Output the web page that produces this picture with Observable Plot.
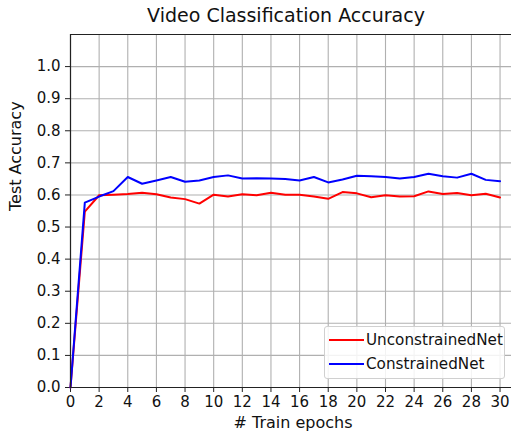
<!DOCTYPE html>
<html>
<head>
<meta charset="utf-8">
<script src="https://cdn.jsdelivr.net/npm/d3@7"></script>
<script src="https://cdn.jsdelivr.net/npm/@observablehq/plot@0.6"></script>
<style>
  html, body { margin: 0; padding: 0; background: #fff; }
  #wrap { position: relative; width: 511px; height: 436px; font-family: "DejaVu Sans", sans-serif; color: #000; }
  #title { position: absolute; left: 0; width: 572px; top: 4px; text-align: center; font-size: 19px; color: #111; }
  #legend { position: absolute; left: 324px; top: 326px; width: 179px; height: 51px; border: 1px solid #d0d0d0; border-radius: 3px; background: rgba(255,255,255,0.85); }
  .entry { position: absolute; left: 4px; height: 20px; display: flex; align-items: center; font-size: 15.2px; color: #111; }
  .swatch { width: 35px; height: 2px; margin-right: 2px; }
</style>
</head>
<body>
<div id="wrap"></div>
<script>
const title = "Video Classification Accuracy";
const xLabel = "# Train epochs";
const yLabel = "Test Accuracy";
const seriesNames = ["UnconstrainedNet", "ConstrainedNet"];
const seriesColors = ["#ff0000", "#0000ff"];
const epochs = [0,1,2,3,4,5,6,7,8,9,10,11,12,13,14,15,16,17,18,19,20,21,22,23,24,25,26,27,28,29,30];
const unconstrained = [0, 0.548, 0.599, 0.601, 0.603, 0.607, 0.602, 0.592, 0.587, 0.573, 0.601, 0.595, 0.602, 0.599, 0.607, 0.601, 0.601, 0.595, 0.588, 0.609, 0.605, 0.593, 0.599, 0.595, 0.596, 0.611, 0.603, 0.606, 0.599, 0.604, 0.592];
const constrained = [0, 0.576, 0.595, 0.612, 0.656, 0.635, 0.645, 0.656, 0.641, 0.645, 0.656, 0.661, 0.651, 0.652, 0.651, 0.650, 0.645, 0.656, 0.639, 0.648, 0.660, 0.658, 0.656, 0.651, 0.656, 0.666, 0.658, 0.654, 0.666, 0.647, 0.643];
const xTicks = [0,2,4,6,8,10,12,14,16,18,20,22,24,26,28,30];
const yTicks = [0,0.1,0.2,0.3,0.4,0.5,0.6,0.7,0.8,0.9,1.0];

const values = [unconstrained, constrained];
const rows = [];
seriesNames.forEach((name, i) => epochs.forEach((e, j) => rows.push({series: name, epoch: e, acc: values[i][j]})));

const chart = Plot.plot({
  width: 511,
  height: 436,
  marginLeft: 70,
  marginRight: 0,
  marginTop: 34,
  marginBottom: 49,
  style: { fontFamily: "DejaVu Sans, sans-serif", fontSize: "15px", color: "#111", background: "#fff" },
  x: { domain: [0, 30.8] },
  y: { domain: [0, 1.1] },
  color: { domain: seriesNames, range: seriesColors },
  marks: [
    Plot.gridX(xTicks, { stroke: "#b0b0b0", strokeOpacity: 1, strokeWidth: 1.1 }),
    Plot.gridY(yTicks, { stroke: "#b0b0b0", strokeOpacity: 1, strokeWidth: 1.1 }),
    Plot.axisX(xTicks, { tickSize: 5, tickPadding: 4, tickFormat: d => String(d), fontSize: 15, label: null, stroke: "#222" }),
    Plot.axisY(yTicks, { tickSize: 5, tickPadding: 5, tickFormat: d3.format(".1f"), fontSize: 15, label: null, stroke: "#222" }),
    Plot.text([xLabel], { frameAnchor: "bottom", dy: 40, dx: 2, text: d => d, fontSize: 16 }),
    Plot.text([yLabel], { frameAnchor: "left", dx: -55, rotate: -90, text: d => d, fontSize: 16 }),
    Plot.line(rows, { x: "epoch", y: "acc", z: "series", stroke: "series", strokeWidth: 2 }),
    Plot.ruleY([0], { stroke: "#222", strokeWidth: 1.2 }),
    Plot.ruleY([1.1], { stroke: "#222", strokeWidth: 1.2 }),
    Plot.ruleX([0], { stroke: "#222", strokeWidth: 1.2 })
  ]
});

const wrap = document.getElementById("wrap");
wrap.appendChild(chart);
const t = document.createElement("div");
t.id = "title";
t.textContent = title;
wrap.appendChild(t);
const legend = document.createElement("div");
legend.id = "legend";
seriesNames.forEach((name, i) => {
  const e = document.createElement("div");
  e.className = "entry";
  e.style.top = (3 + i * 24) + "px";
  const s = document.createElement("div");
  s.className = "swatch";
  s.style.background = seriesColors[i];
  const l = document.createElement("span");
  l.textContent = name;
  e.appendChild(s); e.appendChild(l);
  legend.appendChild(e);
});
wrap.appendChild(legend);
</script>
</body>
</html>
